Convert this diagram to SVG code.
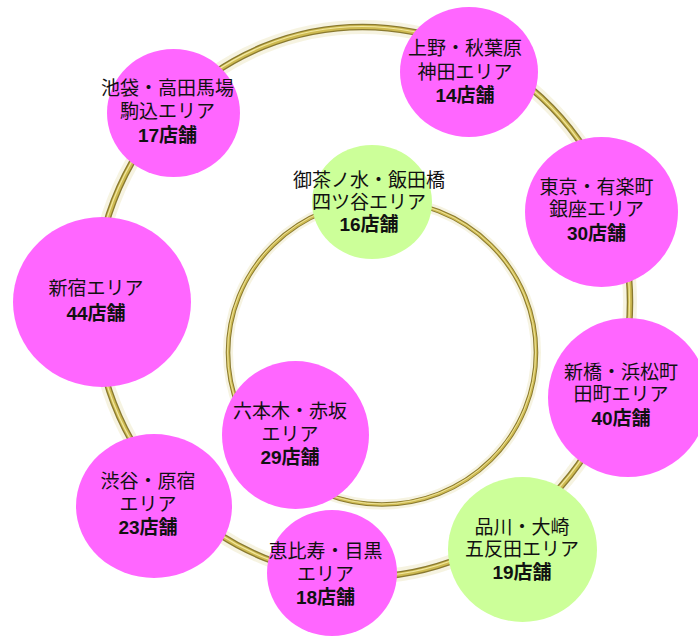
<svg xmlns="http://www.w3.org/2000/svg" width="698" height="639" viewBox="0 0 698 639">
<style>
.glow{fill:none;stroke:#efe9c8;stroke-opacity:0.55}
.rdark{fill:none;stroke:#8a7a30}
.rmid{fill:none;stroke:#cfbb52}
.rhi{fill:none;stroke:#f1e7a0}
.pink{fill:#ff66ff}
.green{fill:#ccff99}
text{font-family:"Liberation Sans","Noto Sans CJK JP",sans-serif;font-size:19px;fill:#111;text-anchor:middle}
.b{font-weight:bold}
</style>
<rect x="0" y="0" width="698" height="639" fill="#ffffff"/>
<g id="rings">
  <ellipse class="glow" cx="362.5" cy="302" rx="267.5" ry="275" stroke-width="14"/>
  <ellipse class="rdark" cx="362.5" cy="302" rx="267.5" ry="275" stroke-width="6.5"/>
  <ellipse class="rmid" cx="362.5" cy="302" rx="267.5" ry="275" stroke-width="3.8"/>
  <ellipse class="rhi" cx="362" cy="301.5" rx="267.5" ry="275" stroke-width="1.2"/>
  <ellipse class="glow" cx="382" cy="352.5" rx="154" ry="152" stroke-width="10"/>
  <ellipse class="rdark" cx="382" cy="352.5" rx="154" ry="152" stroke-width="4.6"/>
  <ellipse class="rmid" cx="382" cy="352.5" rx="154" ry="152" stroke-width="2.6"/>
  <ellipse class="rhi" cx="381.6" cy="352" rx="154" ry="152" stroke-width="0.9"/>
</g>
<g id="ikebukuro">
  <ellipse class="pink" cx="173.5" cy="113" rx="66.5" ry="64"/>
  <text x="167.5" y="95">池袋・高田馬場<tspan x="167.5" dy="23">駒込エリア</tspan><tspan class="b" x="167.5" dy="24">17店舗</tspan></text>
</g>
<g id="shinjuku">
  <ellipse class="pink" cx="102" cy="302" rx="89" ry="85"/>
  <text x="96" y="295">新宿エリア<tspan class="b" x="96" dy="25">44店舗</tspan></text>
</g>
<g id="ueno">
  <ellipse class="pink" cx="469" cy="72" rx="69" ry="65"/>
  <text x="465" y="55">上野・秋葉原<tspan x="465" dy="24">神田エリア</tspan><tspan class="b" x="465" dy="23">14店舗</tspan></text>
</g>
<g id="ochanomizu">
  <ellipse class="green" cx="372" cy="202" rx="60" ry="57"/>
  <text x="369" y="187">御茶ノ水・飯田橋<tspan x="369" dy="22">四ツ谷エリア</tspan><tspan class="b" x="369" dy="22">16店舗</tspan></text>
</g>
<g id="tokyo">
  <ellipse class="pink" cx="601.5" cy="212" rx="76.5" ry="75"/>
  <text x="596.5" y="194">東京・有楽町<tspan x="596.5" dy="22">銀座エリア</tspan><tspan class="b" x="596.5" dy="24">30店舗</tspan></text>
</g>
<g id="shinbashi">
  <ellipse class="pink" cx="628" cy="397.5" rx="80" ry="79.5"/>
  <text x="621" y="379">新橋・浜松町<tspan x="621" dy="22">田町エリア</tspan><tspan class="b" x="621" dy="24">40店舗</tspan></text>
</g>
<g id="roppongi">
  <ellipse class="pink" cx="295.5" cy="435" rx="73.5" ry="74"/>
  <text x="290" y="418">六本木・赤坂<tspan x="290" dy="23">エリア</tspan><tspan class="b" x="290" dy="23">29店舗</tspan></text>
</g>
<g id="shibuya">
  <ellipse class="pink" cx="154" cy="506" rx="78" ry="72"/>
  <text x="148" y="488">渋谷・原宿<tspan x="148" dy="23">エリア</tspan><tspan class="b" x="148" dy="23">23店舗</tspan></text>
</g>
<g id="ebisu">
  <ellipse class="pink" cx="332" cy="573" rx="65" ry="63"/>
  <text x="325.5" y="558">恵比寿・目黒<tspan x="325.5" dy="23">エリア</tspan><tspan class="b" x="325.5" dy="23">18店舗</tspan></text>
</g>
<g id="shinagawa">
  <ellipse class="green" cx="522.5" cy="549.5" rx="74.5" ry="72.5"/>
  <text x="522" y="534">品川・大崎<tspan x="522" dy="22">五反田エリア</tspan><tspan class="b" x="522" dy="23">19店舗</tspan></text>
</g>
</svg>
